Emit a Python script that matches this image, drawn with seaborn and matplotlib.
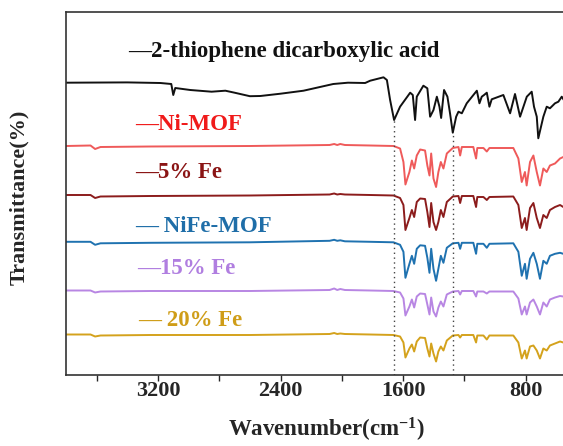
import numpy as np
import pandas as pd
import matplotlib
matplotlib.use("Agg")
import matplotlib.pyplot as plt
import seaborn as sns

# ---------------- data ----------------
# Ligand spectrum (relative transmittance, 0 = left baseline)
wn_ligand = [3800, 3400, 3184, 3113, 3100, 3087, 2989, 2850, 2760, 2700, 2600, 2532, 2400,
             2250, 2056, 1960, 1848, 1815, 1728, 1706, 1685, 1659, 1620, 1554, 1537, 1522,
             1511, 1468, 1442, 1424, 1402, 1380, 1363, 1352, 1333, 1311, 1294, 1276, 1254,
             1239, 1217, 1185, 1119, 1102, 1087, 1072, 1054, 1037, 1022, 946, 902, 870, 837,
             793, 761, 746, 728, 718, 685, 663, 642, 609, 587, 565, 544, 500]
t_ligand = [0, 0.3, -0.3, -1.3, -12.3, -5.3, -7.3, -9, -8, -10, -13.5, -13.3, -11,
            -8, -1.3, 0, -0.3, 2, 5.4, 2.7, -17.3, -37.3, -24, -10, -12.3, -37.3,
            -14, -3, -5.6, -34, -27.3, -14, -24, -35.3, -7.3, -14, -30.6, -50, -34,
            -29, -30.6, -20.6, -8, -20.6, -14, -12.3, -10, -24, -16.6, -12.3, -30.6, -11.3, -34,
            -14, -9, -24, -34, -55.6, -34, -24, -25.6, -20.6, -19, -14, -19, -17]

# MOF spectra share one wavenumber grid
wn_mof = [3800, 3640, 3610, 3575, 3250, 2600, 2080, 2050, 2030, 2010, 1980, 1815, 1663,
          1620, 1598, 1585, 1559, 1543, 1528, 1511, 1489, 1457, 1442, 1428, 1417, 1402,
          1385, 1370, 1354, 1337, 1315, 1276, 1239, 1228, 1217, 1142, 1124, 1116, 1076,
          1054, 1037, 881, 848, 826, 805, 794, 772, 750, 728, 707, 685, 663, 642, 609,
          576, 555, 500]
t_ni_mof = [-0.5, 0, -3.5, -1.5, -1, -0.5, 0.5, 1.5, 0.5, 1.5, 0.5, 0, -0.5,
            -3, -16.5, -39, -26.5, -15, -23, -10, -4, -5, -20, -30, -8, -33,
            -41.5, -26.5, -16.5, -23, -8, -2.5, -1.5, -10, -1.5, -1.5, -13, -2.5, -2.5,
            -6, -2.5, -2.5, -13, -36.5, -26.5, -40, -16.5, -10, -26.5, -40, -23, -26.5, -20, -18,
            -13, -11.5, -10]
t_fe5 = [0, 0, -3, -1.5, -1, -0.5, 0.5, 1.5, 0.5, 1, 0.5, 0, -0.5,
         -3, -10, -35, -23, -15, -22, -7, -3.5, -4, -17, -32, -8, -27,
         -35, -27, -15, -22, -7, -1.5, -1, -8, -1, -1, -12, -2, -2,
         -5, -2, -1.5, -10, -33, -23, -35, -13, -8, -23, -33, -20, -23, -15, -12,
         -10, -12, -11]
t_nife = [0, 0, -3, -1.5, -1, -0.5, 1, 2, 1, 1.5, 0.5, 0, -0.5,
          -3, -10, -36, -22, -14, -22, -7, -3.5, -4, -16, -31, -7, -27,
          -39, -27, -14, -21, -6, -1.5, -1, -7, -1, -1, -12, -2, -2,
          -6, -2, -1.5, -10, -34, -22, -37, -17, -11, -22, -37, -19, -22, -14, -12,
          -11, -12, -11]
t_fe15 = [0, 0, -2, -1, -0.5, -0.5, 0.5, 2, 0.5, 1.5, 0.5, 0, -0.5,
          -2, -8, -25, -16, -9, -17, -6, -3, -3.5, -14, -24, -7, -21,
          -26, -17, -11, -16, -4, -1, -0.5, -4, -0.5, -0.5, -6, -1, -1,
          -3, -1, -1, -8, -24, -16, -24, -12, -9, -16, -24, -12, -16, -9, -7,
          -5.5, -6, -6]
t_fe20 = [0, 0, -2, -1, -0.5, -0.5, 0.5, 1.5, 0.5, 1, 0.5, 0, -0.5,
          -2, -8, -23, -14, -10, -17, -7, -3, -3.5, -14, -22, -9, -19,
          -27, -17, -12, -16, -6, -1, -0.5, -3, -0.5, -0.5, -8, -1, -1,
          -5, -1, -1, -8, -24, -16, -24, -12, -11, -16, -24, -14, -16, -11, -9,
          -7, -8, -8]

labels = ["2-thiophene dicarboxylic acid", "Ni-MOF", "5% Fe", "NiFe-MOF", "15% Fe", "20% Fe"]
label_text = ["\u20142-thiophene dicarboxylic acid", "\u2014Ni-MOF", "\u20145% Fe",
              "\u2014 NiFe-MOF", "\u201415% Fe", "\u2014 20% Fe"]
xticks = [3200, 2400, 1600, 800]
minor_ticks = [3600, 2800, 2000, 1200]
marked_bands = [1659, 1276]

# ---------------- style ----------------
line_colors = ["#111111", "#ef5a5a", "#8c1c1c", "#1f72b0", "#b886e3", "#d4a21c"]
text_colors = ["#111111", "#f01a1a", "#8a1414", "#1f6ea8", "#b07ee0", "#cf9d18"]
offsets = [292.3, 229.5, 180.0, 133.2, 84.5, 40.5]
label_pos = [(128, 52), (135, 125), (135, 173), (135, 226), (137, 268), (138, 320)]

sns.set_style("white")
plt.rcParams["font.family"] = ["Liberation Serif", "DejaVu Serif"]
plt.rcParams["font.weight"] = "bold"
plt.rcParams["mathtext.fontset"] = "custom"
plt.rcParams["mathtext.rm"] = "Liberation Serif:bold"
plt.rcParams["mathtext.bf"] = "Liberation Serif:bold"
plt.rcParams["mathtext.it"] = "Liberation Serif:bold"

W, H = 563, 446
fig = plt.figure(figsize=(W / 100, H / 100), dpi=100)
ax = fig.add_axes([66 / W, 1 - 375 / H, (571.7 - 66) / W, (375 - 12) / H])

frames = []
frames.append(pd.DataFrame({"wn": wn_ligand, "t": t_ligand, "sample": labels[0]}))
for lab, vals in zip(labels[1:], [t_ni_mof, t_fe5, t_nife, t_fe15, t_fe20]):
    frames.append(pd.DataFrame({"wn": wn_mof, "t": vals, "sample": lab}))

for i, df in enumerate(frames):
    df = df.copy()
    df["t"] = df["t"] + offsets[i]
    sns.lineplot(data=df, x="wn", y="t", color=line_colors[i], lw=1.4,
                 estimator=None, sort=False, ax=ax, legend=False)

# dotted marker lines from ligand band minima down to the axis
for b in marked_bands:
    idx = int(np.argmin(np.abs(np.array(wn_ligand) - b)))
    ax.vlines(wn_ligand[idx], 0, t_ligand[idx] + offsets[0], colors="#444444",
              linestyles=(0, (1, 2.5)), lw=1.0)

ax.set_xlim(3800, 500)
ax.set_ylim(0, 363)
ax.set_xticks(xticks)
ax.set_xticks(minor_ticks, minor=True)
ax.set_xticklabels([str(t) for t in xticks], fontsize=16, fontweight="bold")
ax.tick_params(axis="x", which="both", direction="out", length=4, width=1,
               bottom=True, pad=0.5)
ax.set_yticks([])
ax.set_xlabel("")
ax.set_ylabel("")
for s in ax.spines.values():
    s.set_color("#333333")
    s.set_linewidth(1.2)

for i, (px, py) in enumerate(label_pos):
    fig.text(px / W, 1 - py / H, label_text[i], color=text_colors[i], fontsize=16.5,
             fontweight="bold", ha="left", va="center")

fig.text(19 / W, 1 - 197 / H, "Transmittance(%)", rotation=90, ha="center", va="center",
         fontsize=16, fontweight="bold")
fig.text(326 / W, 1 - 430 / H, r"Wavenumber(cm$^{\mathbf{-1}}$)", ha="center", va="center",
         fontsize=16.5, fontweight="bold")

fig.savefig("out.png", dpi=100)
